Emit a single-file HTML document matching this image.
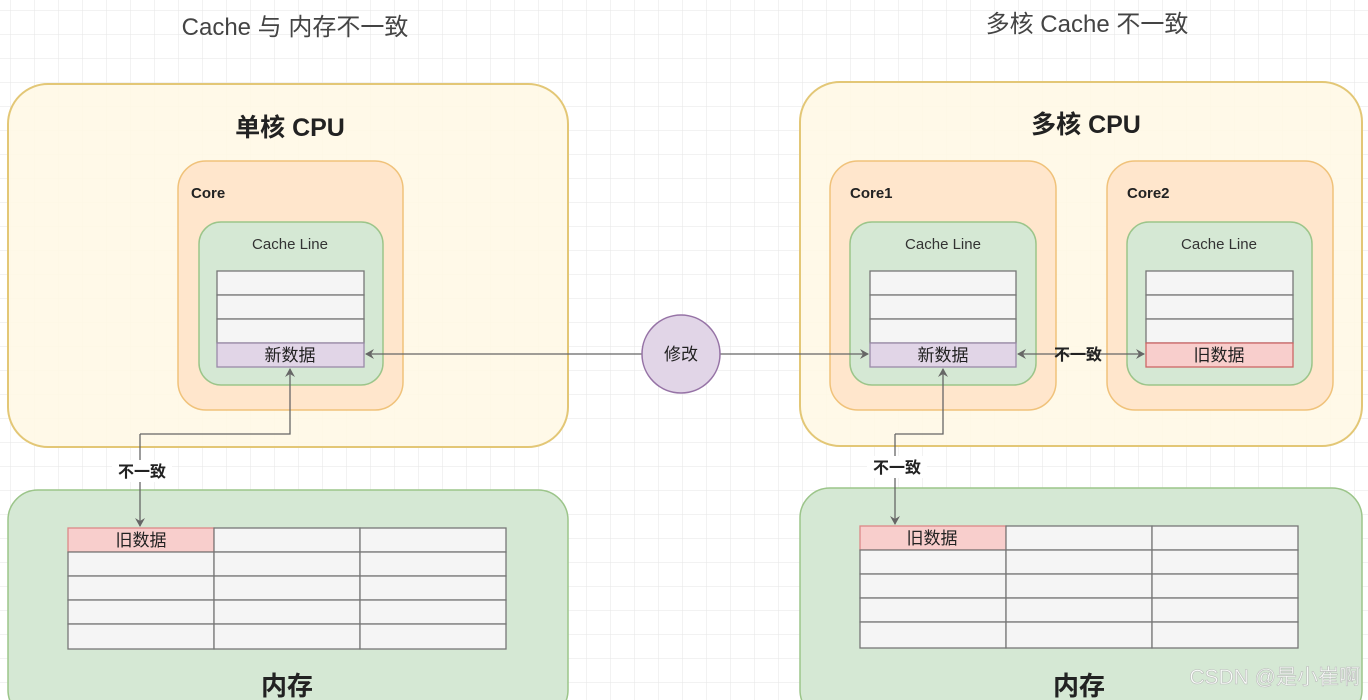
<!DOCTYPE html>
<html><head><meta charset="utf-8"><style>
html,body{margin:0;padding:0;width:1368px;height:700px;overflow:hidden;background:#fff}
svg{display:block}
text{font-family:"Liberation Sans","Noto Sans CJK SC",sans-serif}
</style></head><body>
<svg width="1368" height="700" xmlns="http://www.w3.org/2000/svg">
<defs>
<pattern id="g" width="24" height="24" patternUnits="userSpaceOnUse" x="10" y="10">
<path d="M24 0H0V24" fill="none" stroke="#e6e6e6" stroke-width="1"/>
</pattern>
<marker id="a" markerWidth="10" markerHeight="10" refX="8" refY="5" orient="auto" markerUnits="userSpaceOnUse">
<path d="M0,0 L9,5 L0,10 L3,5 Z" fill="#666"/>
</marker>
</defs>
<rect width="1368" height="700" fill="url(#g)"/>

<text x="295" y="35" font-size="24" fill="#444" text-anchor="middle">Cache 与 内存不一致</text>
<text x="1087" y="32" font-size="24" fill="#444" text-anchor="middle">多核 Cache 不一致</text>

<!-- Left CPU -->
<rect x="8" y="84" width="560" height="363" rx="40" fill="#fff8e4" fill-opacity="0.85" stroke="#e3c776" stroke-width="2"/>
<text x="290" y="136" font-size="25" font-weight="bold" fill="#222" text-anchor="middle">单核 CPU</text>
<rect x="178" y="161" width="225" height="249" rx="28" fill="#ffe6cc" stroke="#f0c27a" stroke-width="1.5"/>
<text x="191" y="198" font-size="15" font-weight="bold" fill="#222">Core</text>
<rect x="199" y="222" width="184" height="163" rx="22" fill="#d5e8d4" stroke="#9cc58a" stroke-width="1.5"/>
<text x="290" y="249" font-size="15" fill="#333" text-anchor="middle">Cache Line</text>
<g stroke="#777" stroke-width="1.3">
<rect x="217" y="271" width="147" height="24" fill="#f5f5f5"/>
<rect x="217" y="295" width="147" height="24" fill="#f5f5f5"/>
<rect x="217" y="319" width="147" height="24" fill="#f5f5f5"/>
<rect x="217" y="343" width="147" height="24" fill="#e1d5e7" stroke="#9a8aa8"/>
</g>
<text x="290" y="361" font-size="17" fill="#222" text-anchor="middle">新数据</text>

<!-- Left memory -->
<rect x="8" y="490" width="560" height="230" rx="30" fill="#d5e8d4" stroke="#9cc58a" stroke-width="1.5"/>
<g stroke="#777" stroke-width="1.3" fill="#f5f5f5">
<rect x="68" y="528" width="146" height="24" fill="#f8cecc" stroke="#d88"/>
<rect x="214" y="528" width="146" height="24"/><rect x="360" y="528" width="146" height="24"/>
<rect x="68" y="552" width="146" height="24"/><rect x="214" y="552" width="146" height="24"/><rect x="360" y="552" width="146" height="24"/>
<rect x="68" y="576" width="146" height="24"/><rect x="214" y="576" width="146" height="24"/><rect x="360" y="576" width="146" height="24"/>
<rect x="68" y="600" width="146" height="24"/><rect x="214" y="600" width="146" height="24"/><rect x="360" y="600" width="146" height="24"/>
<rect x="68" y="624" width="146" height="25"/><rect x="214" y="624" width="146" height="25"/><rect x="360" y="624" width="146" height="25"/>
</g>
<text x="141" y="546" font-size="17" fill="#222" text-anchor="middle">旧数据</text>
<text x="287" y="695" font-size="26" font-weight="bold" fill="#222" text-anchor="middle">内存</text>

<!-- Right CPU -->
<rect x="800" y="82" width="562" height="364" rx="40" fill="#fff8e4" fill-opacity="0.85" stroke="#e3c776" stroke-width="2"/>
<text x="1086" y="133" font-size="25" font-weight="bold" fill="#222" text-anchor="middle">多核 CPU</text>
<rect x="830" y="161" width="226" height="249" rx="28" fill="#ffe6cc" stroke="#f0c27a" stroke-width="1.5"/>
<text x="850" y="198" font-size="15" font-weight="bold" fill="#222">Core1</text>
<rect x="850" y="222" width="186" height="163" rx="22" fill="#d5e8d4" stroke="#9cc58a" stroke-width="1.5"/>
<text x="943" y="249" font-size="15" fill="#333" text-anchor="middle">Cache Line</text>
<g stroke="#777" stroke-width="1.3">
<rect x="870" y="271" width="146" height="24" fill="#f5f5f5"/>
<rect x="870" y="295" width="146" height="24" fill="#f5f5f5"/>
<rect x="870" y="319" width="146" height="24" fill="#f5f5f5"/>
<rect x="870" y="343" width="146" height="24" fill="#e1d5e7" stroke="#9a8aa8"/>
</g>
<text x="943" y="361" font-size="17" fill="#222" text-anchor="middle">新数据</text>

<rect x="1107" y="161" width="226" height="249" rx="28" fill="#ffe6cc" stroke="#f0c27a" stroke-width="1.5"/>
<text x="1127" y="198" font-size="15" font-weight="bold" fill="#222">Core2</text>
<rect x="1127" y="222" width="185" height="163" rx="22" fill="#d5e8d4" stroke="#9cc58a" stroke-width="1.5"/>
<text x="1219" y="249" font-size="15" fill="#333" text-anchor="middle">Cache Line</text>
<g stroke="#777" stroke-width="1.3">
<rect x="1146" y="271" width="147" height="24" fill="#f5f5f5"/>
<rect x="1146" y="295" width="147" height="24" fill="#f5f5f5"/>
<rect x="1146" y="319" width="147" height="24" fill="#f5f5f5"/>
<rect x="1146" y="343" width="147" height="24" fill="#f8cecc" stroke="#c66"/>
</g>
<text x="1219" y="361" font-size="17" fill="#222" text-anchor="middle">旧数据</text>

<!-- Right memory -->
<rect x="800" y="488" width="562" height="232" rx="30" fill="#d5e8d4" stroke="#9cc58a" stroke-width="1.5"/>
<g stroke="#777" stroke-width="1.3" fill="#f5f5f5">
<rect x="860" y="526" width="146" height="24" fill="#f8cecc" stroke="#d88"/>
<rect x="1006" y="526" width="146" height="24"/><rect x="1152" y="526" width="146" height="24"/>
<rect x="860" y="550" width="146" height="24"/><rect x="1006" y="550" width="146" height="24"/><rect x="1152" y="550" width="146" height="24"/>
<rect x="860" y="574" width="146" height="24"/><rect x="1006" y="574" width="146" height="24"/><rect x="1152" y="574" width="146" height="24"/>
<rect x="860" y="598" width="146" height="24"/><rect x="1006" y="598" width="146" height="24"/><rect x="1152" y="598" width="146" height="24"/>
<rect x="860" y="622" width="146" height="26"/><rect x="1006" y="622" width="146" height="26"/><rect x="1152" y="622" width="146" height="26"/>
</g>
<text x="932" y="544" font-size="17" fill="#222" text-anchor="middle">旧数据</text>
<text x="1079" y="695" font-size="26" font-weight="bold" fill="#222" text-anchor="middle">内存</text>

<!-- connectors -->
<g stroke="#666" stroke-width="1.3" fill="none">
<line x1="642" y1="354" x2="366" y2="354" marker-end="url(#a)"/>
<line x1="720" y1="354" x2="868" y2="354" marker-end="url(#a)"/>
<polyline points="140,434 290,434 290,369" marker-end="url(#a)"/>
<line x1="140" y1="434" x2="140" y2="526" marker-end="url(#a)"/>
<polyline points="895,434 943,434 943,369" marker-end="url(#a)"/>
<line x1="895" y1="434" x2="895" y2="524" marker-end="url(#a)"/>
<line x1="1080" y1="354" x2="1018" y2="354" marker-end="url(#a)"/>
<line x1="1080" y1="354" x2="1144" y2="354" marker-end="url(#a)"/>
</g>
<rect x="112" y="460" width="60" height="22" fill="#fff"/>
<text x="142" y="477" font-size="16" font-weight="bold" fill="#222" text-anchor="middle">不一致</text>
<rect x="867" y="456" width="60" height="22" fill="#fff"/>
<text x="897" y="473" font-size="16" font-weight="bold" fill="#222" text-anchor="middle">不一致</text>
<rect x="1050" y="343" width="58" height="22" fill="#d9e9c9" fill-opacity="0"/>
<text x="1078" y="360" font-size="16" font-weight="bold" fill="#222" text-anchor="middle">不一致</text>

<circle cx="681" cy="354" r="39" fill="#e1d5e7" stroke="#9673a6" stroke-width="1.5"/>
<text x="681" y="360" font-size="17" fill="#222" text-anchor="middle">修改</text>

<text x="1360" y="684" font-size="21" fill="#fff" fill-opacity="0.85" stroke="#bbb" stroke-width="0.6" text-anchor="end">CSDN @是小崔啊</text>
</svg>
</body></html>
